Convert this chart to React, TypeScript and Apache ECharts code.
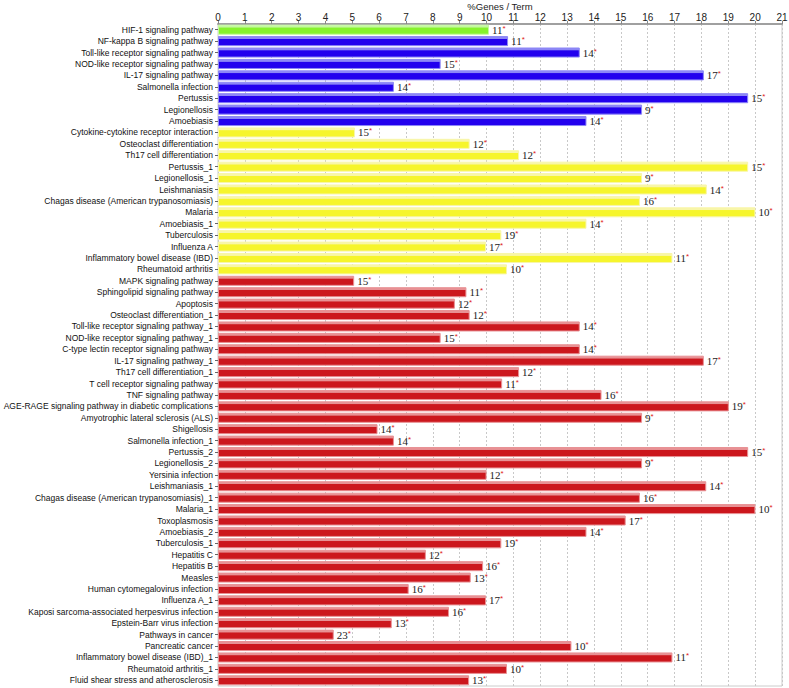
import React, { useEffect, useRef } from "react";
import * as echarts from "echarts";

const categories: string[] = [
  "HIF-1 signaling pathway",
  "NF-kappa B signaling pathway",
  "Toll-like receptor signaling pathway",
  "NOD-like receptor signaling pathway",
  "IL-17 signaling pathway",
  "Salmonella infection",
  "Pertussis",
  "Legionellosis",
  "Amoebiasis",
  "Cytokine-cytokine receptor interaction",
  "Osteoclast differentiation",
  "Th17 cell differentiation",
  "Pertussis_1",
  "Legionellosis_1",
  "Leishmaniasis",
  "Chagas disease (American trypanosomiasis)",
  "Malaria",
  "Amoebiasis_1",
  "Tuberculosis",
  "Influenza A",
  "Inflammatory bowel disease (IBD)",
  "Rheumatoid arthritis",
  "MAPK signaling pathway",
  "Sphingolipid signaling pathway",
  "Apoptosis",
  "Osteoclast differentiation_1",
  "Toll-like receptor signaling pathway_1",
  "NOD-like receptor signaling pathway_1",
  "C-type lectin receptor signaling pathway",
  "IL-17 signaling pathway_1",
  "Th17 cell differentiation_1",
  "T cell receptor signaling pathway",
  "TNF signaling pathway",
  "AGE-RAGE signaling pathway in diabetic complications",
  "Amyotrophic lateral sclerosis (ALS)",
  "Shigellosis",
  "Salmonella infection_1",
  "Pertussis_2",
  "Legionellosis_2",
  "Yersinia infection",
  "Leishmaniasis_1",
  "Chagas disease (American trypanosomiasis)_1",
  "Malaria_1",
  "Toxoplasmosis",
  "Amoebiasis_2",
  "Tuberculosis_1",
  "Hepatitis C",
  "Hepatitis B",
  "Measles",
  "Human cytomegalovirus infection",
  "Influenza A_1",
  "Kaposi sarcoma-associated herpesvirus infection",
  "Epstein-Barr virus infection",
  "Pathways in cancer",
  "Pancreatic cancer",
  "Inflammatory bowel disease (IBD)_1",
  "Rheumatoid arthritis_1",
  "Fluid shear stress and atherosclerosis",
];

const percentGenes: number[] = [
  10.09, 10.8, 13.47, 8.29, 18.09, 6.55, 19.74, 15.79, 13.72,
  5.1, 9.37, 11.21, 19.74, 15.79, 18.2, 15.71, 20.01, 13.72, 10.55, 9.98, 16.92, 10.76,
  5.07, 9.25, 8.82, 9.37, 13.47, 8.29, 13.47, 18.09, 11.21, 10.58, 14.28, 19.02, 15.79,
  5.94, 6.55, 19.74, 15.79, 10.0, 18.18, 15.71, 20.01, 15.18, 13.72, 10.55, 7.74, 9.87,
  9.41, 7.1, 9.98, 8.6, 6.47, 4.31, 13.16, 16.92, 10.76, 9.35,
];

const geneCounts: string[] = [
  "11", "11", "14", "15", "17", "14", "15", "9", "14",
  "15", "12", "12", "15", "9", "14", "16", "10", "14", "19", "17", "11", "10",
  "15", "11", "12", "12", "14", "15", "14", "17", "12", "11", "16", "19", "9",
  "14", "14", "15", "9", "12", "14", "16", "10", "17", "14", "19", "12", "16",
  "13", "16", "17", "16", "13", "23", "10", "11", "10", "13",
];

// number of consecutive categories in each colour group: green, blue, yellow, red
const groupSizes: number[] = [1, 8, 13, 36];

const groupColors = [
  { main: "#86f22c", light: "#c4f8a0" },
  { main: "#2200ee", light: "#8c86f6" },
  { main: "#f6f52c", light: "#f8f6a8" },
  { main: "#cc171d", light: "#e89194" },
];

function groupOf(i: number): number {
  let acc = 0;
  for (let g = 0; g < groupSizes.length; g++) {
    acc += groupSizes[g];
    if (i < acc) return g;
  }
  return groupSizes.length - 1;
}

const SANS = "'Liberation Sans', Arial, sans-serif";

export default function App() {
  const ref = useRef<HTMLDivElement>(null);

  useEffect(() => {
    if (!ref.current) return;
    const chart = echarts.init(ref.current, undefined, { renderer: "svg" });

    const barData = percentGenes.map((v, i) => {
      const c = groupColors[groupOf(i)];
      return {
        value: v,
        itemStyle: {
          color: new echarts.graphic.LinearGradient(0, 0, 0, 1, [
            { offset: 0, color: c.light },
            { offset: 0.22, color: c.light },
            { offset: 0.3, color: c.main },
            { offset: 1, color: c.main },
          ]),
          borderColor: c.light,
          borderWidth: 1,
        },
      };
    });

    chart.setOption({
      animation: false,
      grid: {
        left: 218,
        right: 7,
        top: 24,
        bottom: 2,
        show: true,
        borderColor: "#cccccc",
        borderWidth: 1,
        outerBoundsMode: "none",
        containLabel: false,
      },
      xAxis: {
        type: "value",
        position: "top",
        min: 0,
        max: 21,
        interval: 1,
        name: "%Genes / Term",
        nameLocation: "middle",
        nameGap: 13,
        nameMoveOverlap: false,
        nameTextStyle: { fontFamily: SANS, fontSize: 9.5, color: "#222", verticalAlign: "bottom" },
        axisLine: { show: true, lineStyle: { color: "#a0a0a0", width: 2 } },
        axisTick: { show: true, length: 3, lineStyle: { color: "#888" } },
        axisLabel: { fontFamily: SANS, fontSize: 10, color: "#222", margin: 2 },
        splitLine: { show: true, lineStyle: { color: "#c8c8c8", type: [2, 2] } },
      },
      yAxis: {
        type: "category",
        data: categories,
        inverse: true,
        axisLine: { show: false },
        axisTick: { show: true, alignWithLabel: true, length: 3, lineStyle: { color: "#666" } },
        axisLabel: {
          fontFamily: SANS,
          fontSize: 8.5,
          color: "#111",
          margin: 5,
          interval: 0,
        },
      },
      series: [
        {
          type: "bar",
          data: barData,
          barCategoryGap: "12%",
          label: {
            show: true,
            position: "right",
            distance: 3,
            formatter: (p: any) => `{n|${geneCounts[p.dataIndex]}}{s|*}`,
            rich: {
              n: { fontFamily: "Liberation Serif", fontSize: 11, color: "#222" },
              s: { fontFamily: "Liberation Sans", fontSize: 8, color: "#e02020", verticalAlign: "top", padding: [0, 0, 3, 0] },
            },
          },
        },
      ],
    });

    return () => chart.dispose();
  }, []);

  return (
    <div
      ref={ref}
      style={{ position: "absolute", left: 0, top: 0, width: 789, height: 688, background: "#fff" }}
    />
  );
}
